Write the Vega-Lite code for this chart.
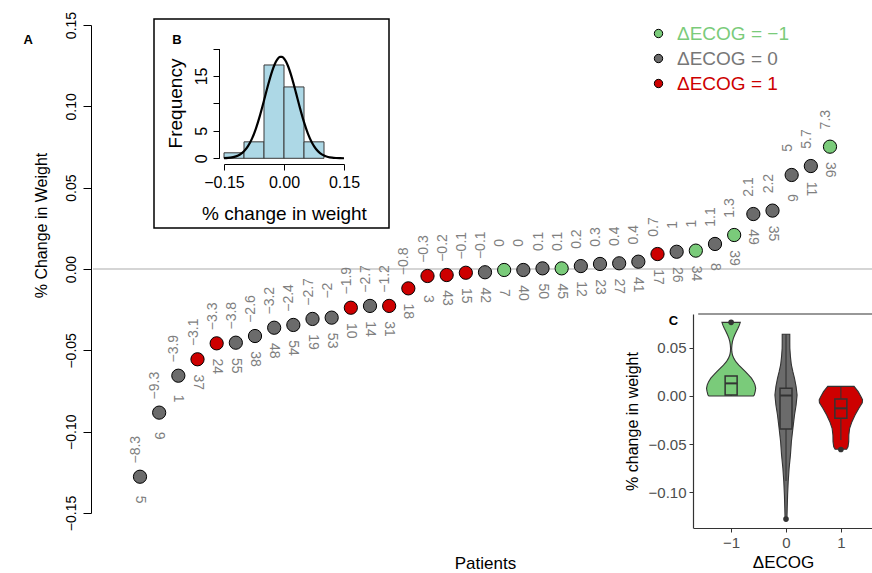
{
  "$schema": "https://vega.github.io/schema/vega-lite/v6.json",
  "width": 872,
  "height": 573,
  "padding": 0,
  "autosize": "none",
  "background": "white",
  "config": {
    "view": {"stroke": null},
    "font": "Liberation Sans",
    "axis": {"grid": false, "labelFont": "Liberation Sans", "titleFont": "Liberation Sans"},
    "legend": {"padding": 0}
  },
  "datasets": {
    "pts": [
      {"rank":1,"v":-0.1277,"ecog":"0","lab":"−8.3","id":"5"},
      {"rank":2,"v":-0.0883,"ecog":"0","lab":"−9.3","id":"9"},
      {"rank":3,"v":-0.0656,"ecog":"0","lab":"−3.9","id":"1"},
      {"rank":4,"v":-0.0555,"ecog":"1","lab":"−3.1","id":"37"},
      {"rank":5,"v":-0.0457,"ecog":"1","lab":"−3.3","id":"24"},
      {"rank":6,"v":-0.0453,"ecog":"0","lab":"−3.8","id":"55"},
      {"rank":7,"v":-0.0412,"ecog":"0","lab":"−2.6","id":"38"},
      {"rank":8,"v":-0.0361,"ecog":"0","lab":"−3.2","id":"48"},
      {"rank":9,"v":-0.0344,"ecog":"0","lab":"−2.4","id":"54"},
      {"rank":10,"v":-0.0307,"ecog":"0","lab":"−2.7","id":"19"},
      {"rank":11,"v":-0.0299,"ecog":"0","lab":"−2","id":"53"},
      {"rank":12,"v":-0.0238,"ecog":"1","lab":"−1.9","id":"10"},
      {"rank":13,"v":-0.0227,"ecog":"0","lab":"−2.7","id":"14"},
      {"rank":14,"v":-0.0227,"ecog":"1","lab":"−1.2","id":"31"},
      {"rank":15,"v":-0.0119,"ecog":"1","lab":"−0.8","id":"18"},
      {"rank":16,"v":-0.0043,"ecog":"1","lab":"−0.3","id":"3"},
      {"rank":17,"v":-0.0037,"ecog":"1","lab":"−0.2","id":"43"},
      {"rank":18,"v":-0.0023,"ecog":"1","lab":"−0.1","id":"15"},
      {"rank":19,"v":-0.0020,"ecog":"0","lab":"−0.1","id":"42"},
      {"rank":20,"v":-0.0006,"ecog":"-1","lab":"0","id":"7"},
      {"rank":21,"v":-0.0006,"ecog":"0","lab":"0","id":"40"},
      {"rank":22,"v":0.0004,"ecog":"0","lab":"0.1","id":"50"},
      {"rank":23,"v":0.0004,"ecog":"-1","lab":"0.1","id":"45"},
      {"rank":24,"v":0.0018,"ecog":"0","lab":"0.2","id":"12"},
      {"rank":25,"v":0.0031,"ecog":"0","lab":"0.3","id":"23"},
      {"rank":26,"v":0.0035,"ecog":"0","lab":"0.4","id":"27"},
      {"rank":27,"v":0.0045,"ecog":"0","lab":"0.4","id":"41"},
      {"rank":28,"v":0.0092,"ecog":"1","lab":"0.7","id":"17"},
      {"rank":29,"v":0.0106,"ecog":"0","lab":"1","id":"26"},
      {"rank":30,"v":0.0113,"ecog":"-1","lab":"1","id":"34"},
      {"rank":31,"v":0.0154,"ecog":"0","lab":"1.1","id":"8"},
      {"rank":32,"v":0.0209,"ecog":"-1","lab":"1.3","id":"39"},
      {"rank":33,"v":0.0338,"ecog":"0","lab":"2.1","id":"49"},
      {"rank":34,"v":0.0359,"ecog":"0","lab":"2.2","id":"35"},
      {"rank":35,"v":0.0578,"ecog":"0","lab":"5","id":"6"},
      {"rank":36,"v":0.0633,"ecog":"0","lab":"5.7","id":"11"},
      {"rank":37,"v":0.0752,"ecog":"-1","lab":"7.3","id":"36"}
    ],
    "hist": [
      {"lo":-0.15,"hi":-0.10,"n":1},
      {"lo":-0.10,"hi":-0.05,"n":3},
      {"lo":-0.05,"hi":0.0,"n":17},
      {"lo":0.0,"hi":0.05,"n":13},
      {"lo":0.05,"hi":0.10,"n":3}
    ],
    "curve": [
      {"cx":-0.15,"cy":0.032},{"cx":-0.14,"cy":0.077},{"cx":-0.13,"cy":0.17},{"cx":-0.12,"cy":0.354},
      {"cx":-0.11,"cy":0.694},{"cx":-0.10,"cy":1.277},{"cx":-0.09,"cy":2.205},{"cx":-0.08,"cy":3.58},
      {"cx":-0.07,"cy":5.457},{"cx":-0.06,"cy":7.818},{"cx":-0.05,"cy":10.52},{"cx":-0.04,"cy":13.3},
      {"cx":-0.03,"cy":15.79},{"cx":-0.025,"cy":16.81},{"cx":-0.02,"cy":17.62},{"cx":-0.015,"cy":18.18},
      {"cx":-0.01,"cy":18.46},{"cx":-0.005,"cy":18.46},{"cx":0.0,"cy":18.18},{"cx":0.005,"cy":17.62},
      {"cx":0.01,"cy":16.81},{"cx":0.02,"cy":14.61},{"cx":0.03,"cy":11.92},{"cx":0.04,"cy":9.14},
      {"cx":0.05,"cy":6.58},{"cx":0.06,"cy":4.455},{"cx":0.07,"cy":2.831},{"cx":0.08,"cy":1.69},
      {"cx":0.09,"cy":0.949},{"cx":0.10,"cy":0.5},{"cx":0.11,"cy":0.247},{"cx":0.12,"cy":0.115},
      {"cx":0.13,"cy":0.05},{"cx":0.14,"cy":0.021},{"cx":0.15,"cy":0.008}
    ],
    "violin": [
      {"ecog":"-1","v":0.0,"lo":-1.405,"hi":-0.595},
      {"ecog":"-1","v":0.001,"lo":-1.422,"hi":-0.578},
      {"ecog":"-1","v":0.005,"lo":-1.44,"hi":-0.56},
      {"ecog":"-1","v":0.008,"lo":-1.448,"hi":-0.552},
      {"ecog":"-1","v":0.0115,"lo":-1.435,"hi":-0.565},
      {"ecog":"-1","v":0.0149,"lo":-1.41,"hi":-0.59},
      {"ecog":"-1","v":0.0185,"lo":-1.37,"hi":-0.63},
      {"ecog":"-1","v":0.0218,"lo":-1.316,"hi":-0.684},
      {"ecog":"-1","v":0.0252,"lo":-1.26,"hi":-0.74},
      {"ecog":"-1","v":0.0287,"lo":-1.2,"hi":-0.8},
      {"ecog":"-1","v":0.032,"lo":-1.14,"hi":-0.86},
      {"ecog":"-1","v":0.0356,"lo":-1.086,"hi":-0.914},
      {"ecog":"-1","v":0.039,"lo":-1.05,"hi":-0.95},
      {"ecog":"-1","v":0.0425,"lo":-1.024,"hi":-0.976},
      {"ecog":"-1","v":0.046,"lo":-1.013,"hi":-0.987},
      {"ecog":"-1","v":0.0494,"lo":-1.01,"hi":-0.99},
      {"ecog":"-1","v":0.053,"lo":-1.015,"hi":-0.985},
      {"ecog":"-1","v":0.0563,"lo":-1.024,"hi":-0.976},
      {"ecog":"-1","v":0.06,"lo":-1.042,"hi":-0.958},
      {"ecog":"-1","v":0.0633,"lo":-1.065,"hi":-0.935},
      {"ecog":"-1","v":0.067,"lo":-1.095,"hi":-0.905},
      {"ecog":"-1","v":0.0702,"lo":-1.125,"hi":-0.875},
      {"ecog":"-1","v":0.0735,"lo":-1.15,"hi":-0.85},
      {"ecog":"-1","v":0.0764,"lo":-1.167,"hi":-0.833},
      {"ecog":"0","v":0.064,"lo":-0.069,"hi":0.069},
      {"ecog":"0","v":0.056,"lo":-0.069,"hi":0.069},
      {"ecog":"0","v":0.0495,"lo":-0.07,"hi":0.07},
      {"ecog":"0","v":0.04,"lo":-0.082,"hi":0.082},
      {"ecog":"0","v":0.0322,"lo":-0.098,"hi":0.098},
      {"ecog":"0","v":0.025,"lo":-0.126,"hi":0.126},
      {"ecog":"0","v":0.0183,"lo":-0.155,"hi":0.155},
      {"ecog":"0","v":0.0097,"lo":-0.184,"hi":0.184},
      {"ecog":"0","v":0.001,"lo":-0.202,"hi":0.202},
      {"ecog":"0","v":-0.0093,"lo":-0.184,"hi":0.184},
      {"ecog":"0","v":-0.0197,"lo":-0.155,"hi":0.155},
      {"ecog":"0","v":-0.0335,"lo":-0.126,"hi":0.126},
      {"ecog":"0","v":-0.0474,"lo":-0.098,"hi":0.098},
      {"ecog":"0","v":-0.0612,"lo":-0.081,"hi":0.081},
      {"ecog":"0","v":-0.075,"lo":-0.057,"hi":0.057},
      {"ecog":"0","v":-0.0889,"lo":-0.04,"hi":0.04},
      {"ecog":"0","v":-0.1027,"lo":-0.029,"hi":0.029},
      {"ecog":"0","v":-0.1165,"lo":-0.022,"hi":0.022},
      {"ecog":"0","v":-0.1276,"lo":-0.017,"hi":0.017},
      {"ecog":"1","v":0.01,"lo":0.76,"hi":1.24},
      {"ecog":"1","v":0.0045,"lo":0.684,"hi":1.316},
      {"ecog":"1","v":-0.001,"lo":0.63,"hi":1.37},
      {"ecog":"1","v":-0.004,"lo":0.605,"hi":1.395},
      {"ecog":"1","v":-0.007,"lo":0.61,"hi":1.39},
      {"ecog":"1","v":-0.0128,"lo":0.672,"hi":1.328},
      {"ecog":"1","v":-0.0197,"lo":0.741,"hi":1.259},
      {"ecog":"1","v":-0.0266,"lo":0.798,"hi":1.202},
      {"ecog":"1","v":-0.0335,"lo":0.84,"hi":1.16},
      {"ecog":"1","v":-0.0405,"lo":0.855,"hi":1.145},
      {"ecog":"1","v":-0.0474,"lo":0.857,"hi":1.143},
      {"ecog":"1","v":-0.0526,"lo":0.87,"hi":1.13},
      {"ecog":"1","v":-0.0553,"lo":0.895,"hi":1.105}
    ],
    "box": [
      {"g":-1,"ecog":"-1","q1":0.001,"med":0.0131,"q3":0.0207,"wlo":0.0,"whi":0.0207},
      {"g":0,"ecog":"0","q1":-0.0342,"med":0.0005,"q3":0.008,"wlo":-0.0883,"whi":0.064},
      {"g":1,"ecog":"1","q1":-0.0232,"med":-0.0128,"q3":-0.0031,"wlo":-0.0456,"whi":0.0097}
    ],
    "outl": [
      {"g":-1,"o":0.0764},
      {"g":0,"o":-0.1277},
      {"g":1,"o":-0.0555}
    ]
  },
  "layer": [
    {
      "layer": [
        {
          "data": {"values": [{}]},
          "mark": {"type": "rule", "color": "#ababab", "strokeWidth": 1},
          "encoding": {
            "x": {"datum": -1.452, "type": "quantitative", "scale": {"domain": [1, 37], "range": [140, 830], "nice": false, "zero": false}},
            "x2": {"datum": 40},
            "y": {"datum": 0, "type": "quantitative", "scale": {"domain": [-0.15, 0.15], "range": [513, 25], "nice": false, "zero": false}}
          }
        },
        {
          "data": {"name": "pts"},
          "mark": {"type": "circle", "size": 175, "opacity": 1, "stroke": "black", "strokeWidth": 1},
          "encoding": {
            "x": {"field": "rank", "type": "quantitative",
                  "scale": {"domain": [1, 37], "range": [140, 830], "nice": false, "zero": false},
                  "axis": {"orient": "bottom", "domain": false, "ticks": false, "labels": false, "title": "Patients",
                           "titleFontSize": 17, "titleFontWeight": "normal", "titleColor": "black",
                           "titleY": -5, "titleBaseline": "alphabetic", "titleX": 485, "titleAlign": "center"}},
            "y": {"field": "v", "type": "quantitative",
                  "scale": {"domain": [-0.15, 0.15], "range": [513, 25], "nice": false, "zero": false},
                  "axis": {"orient": "left", "offset": -91, "values": [-0.15, -0.1, -0.05, 0, 0.05, 0.1, 0.15], "format": ".2f",
                           "labelAngle": 270, "labelAlign": "center", "labelBaseline": "bottom", "labelPadding": 5,
                           "labelFontSize": 14, "labelColor": "black", "labelOverlap": false, "labelFlush": false,
                           "tickSize": 8, "tickColor": "black", "domainColor": "black",
                           "title": "% Change in Weight", "titleFontSize": 16, "titleFontWeight": "normal", "titleColor": "black",
                           "titleAngle": 270, "titleX": -50, "titleY": 225, "titleAlign": "center", "titleBaseline": "middle"}},
            "color": {"field": "ecog", "type": "nominal",
                      "scale": {"domain": ["-1", "0", "1"], "range": ["#7ACB7A", "#6B6B6B", "#CD0000"]},
                      "legend": {"title": null, "orient": "none", "legendX": 649, "legendY": 24,
                                 "labelExpr": "'ΔECOG = ' + replace(datum.label, '-', '−')",
                                 "labelColor": {"expr": "datum.value == '-1' ? '#7ACB7A' : datum.value == '1' ? '#CD0000' : '#777777'"},
                                 "labelFontSize": 19, "labelFont": "Liberation Sans", "labelOffset": 9, "labelLimit": 300,
                                 "symbolType": "circle", "symbolSize": 70, "symbolStrokeColor": "black", "symbolStrokeWidth": 1,
                                 "symbolOpacity": 1, "rowPadding": 5}}
          }
        },
        {
          "data": {"name": "pts"},
          "mark": {"type": "text", "angle": 270, "align": "center", "baseline": "middle", "dx": 27, "dy": -4, "fontSize": 14, "color": "#7f7f7f"},
          "encoding": {
            "x": {"field": "rank", "type": "quantitative", "scale": {"domain": [1, 37], "range": [140, 830], "nice": false, "zero": false}},
            "y": {"field": "v", "type": "quantitative", "scale": {"domain": [-0.15, 0.15], "range": [513, 25], "nice": false, "zero": false}},
            "text": {"field": "lab"}
          }
        },
        {
          "data": {"name": "pts"},
          "mark": {"type": "text", "angle": 90, "align": "center", "baseline": "middle", "dx": 23, "fontSize": 14, "color": "#7f7f7f"},
          "encoding": {
            "x": {"field": "rank", "type": "quantitative", "scale": {"domain": [1, 37], "range": [140, 830], "nice": false, "zero": false}},
            "y": {"field": "v", "type": "quantitative", "scale": {"domain": [-0.15, 0.15], "range": [513, 25], "nice": false, "zero": false}},
            "text": {"field": "id"}
          }
        },
        {
          "data": {"values": [{}]},
          "mark": {"type": "text", "text": "A", "fontWeight": "bold", "fontSize": 13, "align": "center", "baseline": "middle", "color": "black"},
          "encoding": {
            "x": {"datum": -4.84, "type": "quantitative", "scale": {"domain": [1, 37], "range": [140, 830], "nice": false, "zero": false}},
            "y": {"datum": 0.1408, "type": "quantitative", "scale": {"domain": [-0.15, 0.15], "range": [513, 25], "nice": false, "zero": false}}
          }
        }
      ]
    },
    {
      "layer": [
        {
          "data": {"values": [{}]},
          "mark": {"type": "rect", "fill": "white", "stroke": "black", "strokeWidth": 1.5},
          "encoding": {
            "x": {"datum": -0.325, "type": "quantitative", "scale": {"domain": [-0.15, 0.15], "range": [224, 344], "nice": false, "zero": false}},
            "x2": {"datum": 0.2625},
            "y": {"datum": 25.37, "type": "quantitative", "scale": {"domain": [0, 20], "range": [158.3, 48.5], "nice": false, "zero": false}},
            "y2": {"datum": -12.7}
          }
        },
        {
          "data": {"name": "hist"},
          "mark": {"type": "rect", "fill": "#ADD8E6", "stroke": "#3a3a3a", "strokeWidth": 1},
          "encoding": {
            "x": {"field": "lo", "type": "quantitative",
                  "scale": {"domain": [-0.15, 0.15], "range": [224, 344], "nice": false, "zero": false},
                  "axis": {"orient": "bottom", "offset": -409, "zindex": 2, "values": [-0.15, 0, 0.15], "format": ".2f",
                           "tickSize": 6, "tickColor": "black", "domainColor": "black", "labelColor": "black",
                           "labelFontSize": 16, "labelPadding": 4, "labelFlush": false, "labelOverlap": false,
                           "title": "% change in weight", "titleFontSize": 19, "titleFontWeight": "normal", "titleColor": "black",
                           "titleY": 49, "titleBaseline": "middle"}},
            "x2": {"field": "hi"},
            "y": {"field": "n", "type": "quantitative",
                  "scale": {"domain": [0, 20], "range": [158.3, 48.5], "nice": false, "zero": false},
                  "axis": {"orient": "left", "offset": -219, "zindex": 2, "values": [0, 5, 10, 15, 20],
                           "labelExpr": "datum.value == 10 || datum.value == 20 ? '' : datum.label",
                           "labelAngle": 270, "labelAlign": "center", "labelBaseline": "bottom", "labelPadding": 4,
                           "labelFontSize": 16, "labelColor": "black", "labelFlush": false, "labelOverlap": false,
                           "tickSize": 6, "tickColor": "black", "domainColor": "black",
                           "title": "Frequency", "titleFontSize": 19, "titleFontWeight": "normal", "titleColor": "black",
                           "titleAngle": 270, "titleX": -44, "titleY": 103, "titleAlign": "center", "titleBaseline": "middle"}},
            "y2": {"datum": 0}
          }
        },
        {
          "data": {"name": "curve"},
          "mark": {"type": "line", "color": "black", "strokeWidth": 2.2, "interpolate": "monotone"},
          "encoding": {
            "x": {"field": "cx", "type": "quantitative", "scale": {"domain": [-0.15, 0.15], "range": [224, 344], "nice": false, "zero": false}},
            "y": {"field": "cy", "type": "quantitative", "scale": {"domain": [0, 20], "range": [158.3, 48.5], "nice": false, "zero": false}}
          }
        },
        {
          "data": {"values": [{}]},
          "mark": {"type": "text", "text": "B", "fontWeight": "bold", "fontSize": 13, "align": "center", "baseline": "middle", "color": "black"},
          "encoding": {
            "x": {"datum": -0.2675, "type": "quantitative", "scale": {"domain": [-0.15, 0.15], "range": [224, 344], "nice": false, "zero": false}},
            "y": {"datum": 21.55, "type": "quantitative", "scale": {"domain": [0, 20], "range": [158.3, 48.5], "nice": false, "zero": false}}
          }
        }
      ]
    },
    {
      "layer": [
        {
          "data": {"values": [{}]},
          "mark": {"type": "rule", "color": "#333333", "strokeWidth": 1.2},
          "encoding": {
            "x": {"datum": -1.6, "type": "quantitative", "scale": {"domain": [-1.6, 1.6], "range": [693.2, 878.8], "nice": false, "zero": false}},
            "x2": {"datum": 1.6},
            "y": {"datum": 0.08506, "type": "quantitative", "scale": {"domain": [-0.13693, 0.08506], "range": [528, 314], "nice": false, "zero": false}}
          }
        },
        {
          "data": {"name": "violin"},
          "mark": {"type": "area", "orient": "horizontal", "stroke": "#333333", "strokeWidth": 1.1, "opacity": 1},
          "encoding": {
            "x": {"field": "lo", "type": "quantitative", "stack": null,
                  "scale": {"domain": [-1.6, 1.6], "range": [693.2, 878.8], "nice": false, "zero": false},
                  "axis": {"orient": "bottom", "offset": -45, "zindex": 2, "values": [-1, 0, 1], "format": "d",
                           "tickSize": 4, "tickColor": "#333333", "domainColor": "#333333", "domainWidth": 1.2,
                           "labelColor": "#4d4d4d", "labelFontSize": 15, "labelPadding": 3, "labelFlush": false,
                           "title": "ΔECOG", "titleFontSize": 17, "titleFontWeight": "normal", "titleColor": "black",
                           "titlePadding": 4, "titleX": 783, "titleAlign": "center"}},
            "x2": {"field": "hi"},
            "y": {"field": "v", "type": "quantitative",
                  "scale": {"domain": [-0.13693, 0.08506], "range": [528, 314], "nice": false, "zero": false},
                  "axis": {"orient": "left", "offset": -693, "zindex": 2, "values": [-0.1, -0.05, 0, 0.05], "format": ".2f",
                           "tickSize": 4, "tickColor": "#333333", "domainColor": "#333333", "domainWidth": 1.2,
                           "labelColor": "#4d4d4d", "labelFontSize": 15, "labelPadding": 3, "labelFlush": false,
                           "title": "% change in weight", "titleFontSize": 16, "titleFontWeight": "normal", "titleColor": "black",
                           "titleAngle": 270, "titleX": -61, "titleY": 421, "titleAlign": "center", "titleBaseline": "middle"}},
            "color": {"field": "ecog", "type": "nominal", "legend": null}
          }
        },
        {
          "data": {"name": "box"},
          "mark": {"type": "rule", "color": "#333333", "strokeWidth": 1.1},
          "encoding": {
            "x": {"field": "g", "type": "quantitative", "scale": {"domain": [-1.6, 1.6], "range": [693.2, 878.8], "nice": false, "zero": false}},
            "y": {"field": "wlo", "type": "quantitative", "scale": {"domain": [-0.13693, 0.08506], "range": [528, 314], "nice": false, "zero": false}},
            "y2": {"field": "whi"}
          }
        },
        {
          "data": {"name": "box"},
          "mark": {"type": "bar", "size": 12, "stroke": "#333333", "strokeWidth": 1.5, "opacity": 1},
          "encoding": {
            "x": {"field": "g", "type": "quantitative", "scale": {"domain": [-1.6, 1.6], "range": [693.2, 878.8], "nice": false, "zero": false}},
            "y": {"field": "q1", "type": "quantitative", "scale": {"domain": [-0.13693, 0.08506], "range": [528, 314], "nice": false, "zero": false}},
            "y2": {"field": "q3"},
            "color": {"field": "ecog", "type": "nominal", "legend": null}
          }
        },
        {
          "data": {"name": "box"},
          "mark": {"type": "tick", "orient": "horizontal", "size": 12, "thickness": 2, "color": "#333333", "opacity": 1},
          "encoding": {
            "x": {"field": "g", "type": "quantitative", "scale": {"domain": [-1.6, 1.6], "range": [693.2, 878.8], "nice": false, "zero": false}},
            "y": {"field": "med", "type": "quantitative", "scale": {"domain": [-0.13693, 0.08506], "range": [528, 314], "nice": false, "zero": false}}
          }
        },
        {
          "data": {"name": "outl"},
          "mark": {"type": "circle", "size": 32, "color": "#333333", "opacity": 1},
          "encoding": {
            "x": {"field": "g", "type": "quantitative", "scale": {"domain": [-1.6, 1.6], "range": [693.2, 878.8], "nice": false, "zero": false}},
            "y": {"field": "o", "type": "quantitative", "scale": {"domain": [-0.13693, 0.08506], "range": [528, 314], "nice": false, "zero": false}}
          }
        },
        {
          "data": {"values": [{}]},
          "mark": {"type": "text", "text": "C", "fontWeight": "bold", "fontSize": 13, "align": "center", "baseline": "middle", "color": "black"},
          "encoding": {
            "x": {"datum": -2.052, "type": "quantitative", "scale": {"domain": [-1.6, 1.6], "range": [693.2, 878.8], "nice": false, "zero": false}},
            "y": {"datum": 0.0778, "type": "quantitative", "scale": {"domain": [-0.13693, 0.08506], "range": [528, 314], "nice": false, "zero": false}}
          }
        }
      ]
    }
  ],
  "resolve": {"scale": {"x": "independent", "y": "independent"}}
}
